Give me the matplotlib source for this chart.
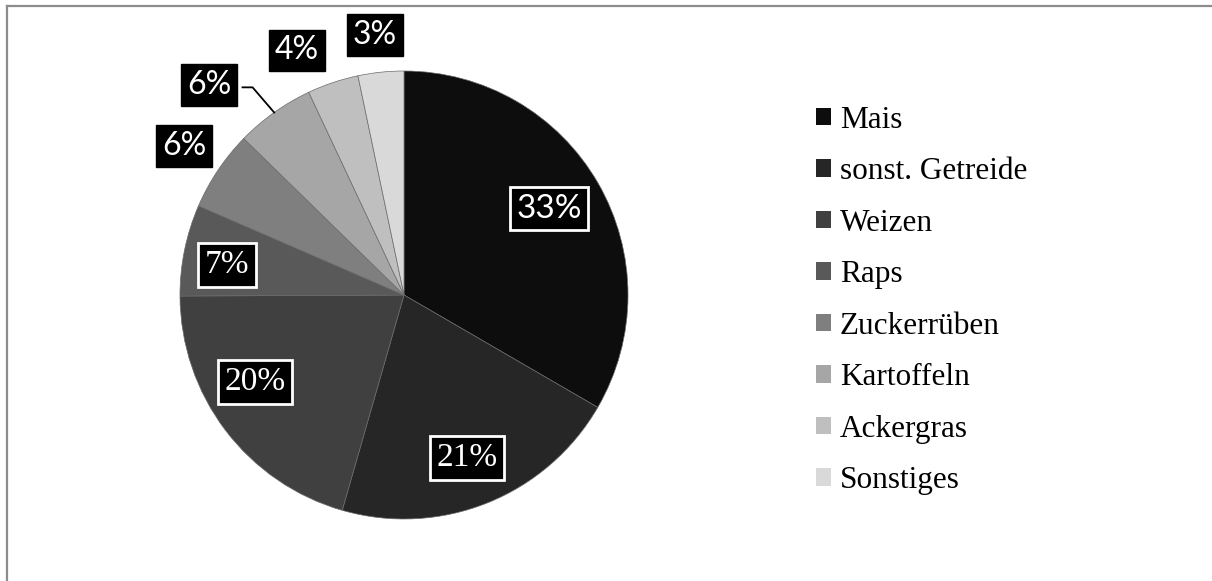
import matplotlib
matplotlib.use("Agg")
import matplotlib.pyplot as plt
from matplotlib.lines import Line2D
import numpy as np

# Data
categories = ["Mais", "sonst. Getreide", "Weizen", "Raps",
              "Zuckerrüben", "Kartoffeln", "Ackergras", "Sonstiges"]
shares = [33.4, 21.1, 20.5, 6.6, 5.8, 5.7, 3.7, 3.3]
colors = ["#0d0d0d", "#262626", "#404040", "#595959",
          "#7f7f7f", "#a6a6a6", "#bfbfbf", "#d9d9d9"]

# label placement (pie data units) and style
label_pos = [(0.647, 0.385), (0.281, -0.728), (-0.665, -0.388), (-0.790, 0.134),
             (-0.982, 0.665), (-0.871, 0.937), (-0.478, 1.092), (-0.129, 1.161)]
label_inside = [True, True, True, True, False, False, False, False]
label_font = ["Lato", "Liberation Serif", "Liberation Serif", "Liberation Serif",
              "Lato", "Lato", "Lato", "Lato"]

W, H = 1212, 581
fig = plt.figure(figsize=(W / 100, H / 100), dpi=100)

# pie centre (404, 295) px, radius 224 px
cx, cy, r = 404, 295, 224
ax = fig.add_axes([(cx - r) / W, (H - cy - r) / H, 2 * r / W, 2 * r / H])
wedges, _ = ax.pie(shares, colors=colors, startangle=90, counterclock=False,
                   radius=1, wedgeprops=dict(edgecolor="#6a6a6a", linewidth=0.5))
ax.set_xlim(-1, 1)
ax.set_ylim(-1, 1)
ax.set_aspect("equal")
ax.axis("off")

for val, (x, y), inside, fam in zip(shares, label_pos, label_inside, label_font):
    txt = f"{round(val)}%"
    if inside:
        bbox = dict(boxstyle="square,pad=0.2", fc="black", ec="white", lw=2)
        size = 24
    else:
        bbox = dict(boxstyle="square,pad=0.18", fc="black", ec="black", lw=1)
        size = 23
    ax.text(x, y, txt, color="white", fontsize=size, family=fam,
            ha="center", va="center", bbox=bbox, clip_on=False, zorder=5)

# leader line for the Kartoffeln label
w = wedges[5]
mid = np.deg2rad((w.theta1 + w.theta2) / 2)
ex, ey = np.cos(mid), np.sin(mid)
lx, ly = label_pos[5]
ax.add_line(Line2D([lx + 0.15, lx + 0.195, ex], [ly - 0.01, ly - 0.01, ey],
                   color="black", lw=1.3, clip_on=False, zorder=4))

# legend
leg = fig.legend(wedges, categories, loc="upper left",
                 bbox_to_anchor=(800 / W, 1 - 90 / H), frameon=False,
                 prop={"family": "Liberation Serif", "size": 22.5},
                 handlelength=0.48, handleheight=0.48, handletextpad=0.3,
                 labelspacing=0.72, borderpad=0)
for h in leg.legend_handles:
    h.set_edgecolor("none")

# grey frame (left and top edges)
fig.add_artist(Line2D([7 / W, 7 / W], [0, 1 - 6 / H], color="#8c8c8c", lw=1.6,
                      transform=fig.transFigure))
fig.add_artist(Line2D([7 / W, 1], [1 - 6 / H, 1 - 6 / H], color="#8c8c8c", lw=1.6,
                      transform=fig.transFigure))

fig.savefig("out.png", dpi=100, facecolor="white")
